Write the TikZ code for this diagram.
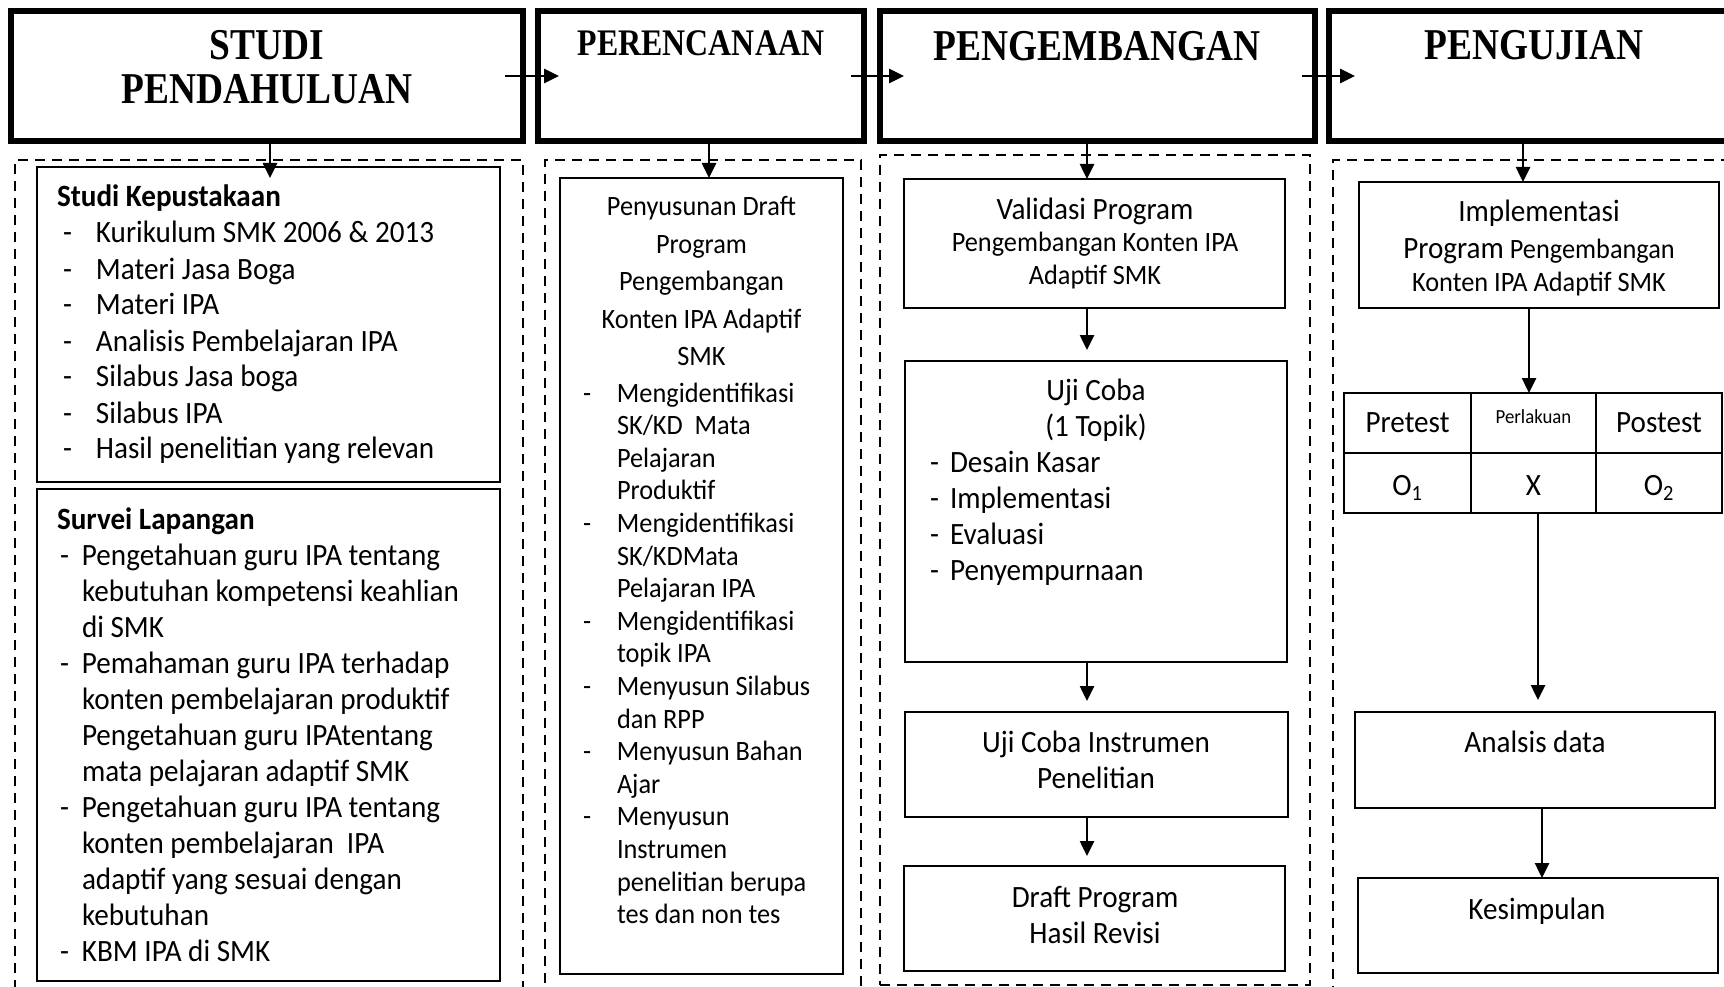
\documentclass[tikz,border=0pt]{standalone}
\usepackage{fontspec}
\setmainfont{Carlito}[FakeStretch=0.94]
\newfontfamily\hdfont{Liberation Serif}[FakeStretch=0.85]
\usetikzlibrary{arrows.meta,calc}
\newcommand\ftA{\fontsize{31}{36}\selectfont}
\newcommand\ftB{\fontsize{28}{32.6}\selectfont}
\newcommand\ftC{\fontsize{28}{37.4}\selectfont}
\newcommand\ftD{\fontsize{20}{24}\selectfont}
\newcommand\ftH{\hdfont\bfseries\fontsize{44}{44}\selectfont}
\newcommand\ftHs{\hdfont\bfseries\fontsize{37.5}{40}\selectfont}
\begin{document}
\begin{tikzpicture}[x=1pt,y=-1pt,
  hbox/.style={draw, line width=6pt, outer sep=0pt, inner sep=0pt, anchor=north west},
  ibox/.style={draw, line width=2.4pt, outer sep=0pt, inner sep=0pt, anchor=north west},
  dbox/.style={draw, line width=2.6pt, dash pattern=on 10pt off 7pt, outer sep=0pt, inner sep=0pt, anchor=north west},
  arr/.style={line width=2.6pt, -{Triangle[length=15pt,width=14pt]}},
  txt/.style={inner sep=0pt, outer sep=0pt, font=\ftA},
  htxt/.style={inner sep=0pt, outer sep=0pt, font=\ftH, anchor=base}]
\clip (0,0) rectangle (1724,987);
\fill[white] (0,0) rectangle (1724,987);
% header boxes
\node[hbox, minimum width=512pt, minimum height=130pt] (b1) at (11,11) {};
\node[hbox, minimum width=326pt, minimum height=130pt] (b2) at (538,11) {};
\node[hbox, minimum width=435pt, minimum height=130pt] (b3) at (880,11) {};
\node[hbox, minimum width=420pt, minimum height=130pt] (b4) at (1329,11) {};
\node[htxt] (t1) at (267,60) {\begin{tabular}[t]{@{}c@{}}STUDI\\PENDAHULUAN\end{tabular}};
\node[htxt, font=\ftHs] (t2) at (701,56) {PERENCANAAN};
\node[htxt] (t3) at (1097,61) {PENGEMBANGAN};
\node[htxt] (t4) at (1534,60) {PENGUJIAN};
% dashed containers
\node[dbox, minimum width=508pt, minimum height=850pt] (d1) at (15,160) {};
\node[dbox, minimum width=316pt, minimum height=850pt] (d2) at (545,160) {};
\node[dbox, minimum width=430pt, minimum height=830pt] (d3) at (880,155) {};
\node[dbox, minimum width=420pt, minimum height=850pt] (d4) at (1333,160) {};
% inner boxes
\node[ibox, minimum width=463pt, minimum height=315pt] (sk) at (37,167) {};
\node[ibox, minimum width=463pt, minimum height=492pt] (sl) at (37,489) {};
\node[ibox, minimum width=283pt, minimum height=796pt] (pd) at (560,178) {};
\node[ibox, minimum width=381pt, minimum height=129pt] (vp) at (904,179) {};
\node[ibox, minimum width=382pt, minimum height=301pt] (uc) at (905,361) {};
\node[ibox, minimum width=383pt, minimum height=105pt] (ui) at (905,712) {};
\node[ibox, minimum width=381pt, minimum height=105pt] (dp) at (904,866) {};
\node[ibox, minimum width=360pt, minimum height=126pt] (im) at (1359,182) {};
\node[ibox, minimum width=378pt, minimum height=120pt] (tb) at (1344,393) {};
\node[ibox, minimum width=360pt, minimum height=96pt] (ad) at (1355,712) {};
\node[ibox, minimum width=360pt, minimum height=95pt] (ks) at (1358,878) {};
% table lines
\draw[line width=2.4pt] (tb.west) -- (tb.east);
\draw[line width=2.4pt] ($(tb.north west)+(127,0)$) -- ($(tb.south west)+(127,0)$);
\draw[line width=2.4pt] ($(tb.north west)+(252,0)$) -- ($(tb.south west)+(252,0)$);
% texts column 1
\node[txt, anchor=base west] (skh) at (57,207) {\textbf{Studi Kepustakaan}};
\node[txt, anchor=base west] (skl) at (63,243) {\begin{tabular}[t]{@{}p{33pt}@{}l@{}}
-&Kurikulum SMK 2006 \& 2013\\ -&Materi Jasa Boga\\ -&Materi IPA\\ -&Analisis Pembelajaran IPA\\
-&Silabus Jasa boga\\ -&Silabus IPA\\ -&Hasil penelitian yang relevan\end{tabular}};
\node[txt, anchor=base west] (slh) at (57,529) {\textbf{Survei Lapangan}};
\node[txt, anchor=base west] (sll) at (60,565) {\begin{tabular}[t]{@{}p{22pt}@{}l@{}}
-&Pengetahuan guru IPA tentang\\ &kebutuhan kompetensi keahlian\\ &di SMK\\
-&Pemahaman guru IPA terhadap\\ &konten pembelajaran produktif\\ &Pengetahuan guru IPAtentang\\ &mata pelajaran adaptif SMK\\
-&Pengetahuan guru IPA tentang\\ &konten pembelajaran\ \ IPA\\ &adaptif yang sesuai dengan\\ &kebutuhan\\
-&KBM IPA di SMK\end{tabular}};
% column 2
\node[txt, anchor=base, font=\ftC] (pdh) at (701.5,216) {\begin{tabular}[t]{@{}c@{}}Penyusunan Draft\\Program\\Pengembangan\\Konten IPA Adaptif\\SMK\end{tabular}};
\node[txt, anchor=base west, font=\ftB] (pdl) at (583,402) {\begin{tabular}[t]{@{}p{34pt}@{}l@{}}
-&Mengidentifikasi\\ &SK/KD\ \ Mata\\ &Pelajaran\\ &Produktif\\
-&Mengidentifikasi\\ &SK/KDMata\\ &Pelajaran IPA\\
-&Mengidentifikasi\\ &topik IPA\\
-&Menyusun Silabus\\ &dan RPP\\
-&Menyusun Bahan\\ &Ajar\\
-&Menyusun\\ &Instrumen\\ &penelitian berupa\\ &tes dan non tes\end{tabular}};
% column 3
\node[txt, anchor=base, font=\ftB] (vpt) at (1095,219) {\begin{tabular}[t]{@{}c@{}}{\ftA Validasi Program}\\Pengembangan Konten IPA\\Adaptif SMK\end{tabular}};
\node[txt, anchor=base] (uct) at (1096,400) {\begin{tabular}[t]{@{}c@{}}Uji Coba\\(1 Topik)\end{tabular}};
\node[txt, anchor=base west] (ucl) at (930,472) {\begin{tabular}[t]{@{}p{20pt}@{}l@{}}
-&Desain Kasar\\ -&Implementasi\\ -&Evaluasi\\ -&Penyempurnaan\end{tabular}};
\node[txt, anchor=base] (uit) at (1096,752) {\begin{tabular}[t]{@{}c@{}}Uji Coba Instrumen\\Penelitian\end{tabular}};
\node[txt, anchor=base] (dpt) at (1095,907) {\begin{tabular}[t]{@{}c@{}}Draft Program\\Hasil Revisi\end{tabular}};
% column 4
\node[txt, anchor=base, font=\ftB] (imt) at (1539,222) {\begin{tabular}[t]{@{}c@{}}{\ftA Implementasi}\\[4.4pt]{\ftA Program} Pengembangan\\Konten IPA Adaptif SMK\end{tabular}};
\node[txt, anchor=base] (c1) at (1407.5,432) {Pretest};
\node[txt, anchor=base, font=\ftD] (c2) at (1533.5,423) {Perlakuan};
\node[txt, anchor=base] (c3) at (1659,432) {Postest};
\node[txt, anchor=base] (c4) at (1407.5,495) {O\textsubscript{1}};
\node[txt, anchor=base] (c5) at (1533.5,495) {X};
\node[txt, anchor=base] (c6) at (1659,495) {O\textsubscript{2}};
\node[txt, anchor=base] (adt) at (1535,752) {Analsis data};
\node[txt, anchor=base] (kst) at (1537,919) {Kesimpulan};
% header arrows
\draw[arr] ([xshift=-18pt]b1.east) -- ([xshift=21pt]b2.west);
\draw[arr] ([xshift=-13pt]b2.east) -- ([xshift=24pt]b3.west);
\draw[arr] ([xshift=-13pt]b3.east) -- ([xshift=26pt]b4.west);
% down arrows
\draw[arr, shorten >=-11pt] ([xshift=3pt]b1.south) -- ([xshift=3pt]b1.south |- sk.north);
\draw[arr] ([xshift=8pt]b2.south) -- ([xshift=8pt]b2.south |- pd.north);
\draw[arr] ([xshift=-10.5pt]b3.south) -- ([xshift=-10.5pt]b3.south |- vp.north);
\draw[arr, shorten >=11pt] ([xshift=-7.5pt]vp.south) -- ([xshift=-7.5pt]vp.south |- uc.north);
\draw[arr, shorten >=11pt] ([xshift=-9pt]uc.south) -- ([xshift=-9pt]uc.south |- ui.north);
\draw[arr, shorten >=10pt] ([xshift=-9.5pt]ui.south) -- ([xshift=-9.5pt]ui.south |- dp.north);
\draw[arr] ([xshift=-16pt]b4.south) -- ([xshift=-16pt]b4.south |- im.north);
\draw[arr] ([xshift=-10pt]im.south) -- ([xshift=-10pt]im.south |- tb.north);
\draw[arr, shorten >=12pt] ([xshift=5pt]tb.south) -- ([xshift=5pt]tb.south |- ad.north);
\draw[arr] ([xshift=7pt]ad.south) -- ([xshift=7pt]ad.south |- ks.north);
\end{tikzpicture}
\end{document}
